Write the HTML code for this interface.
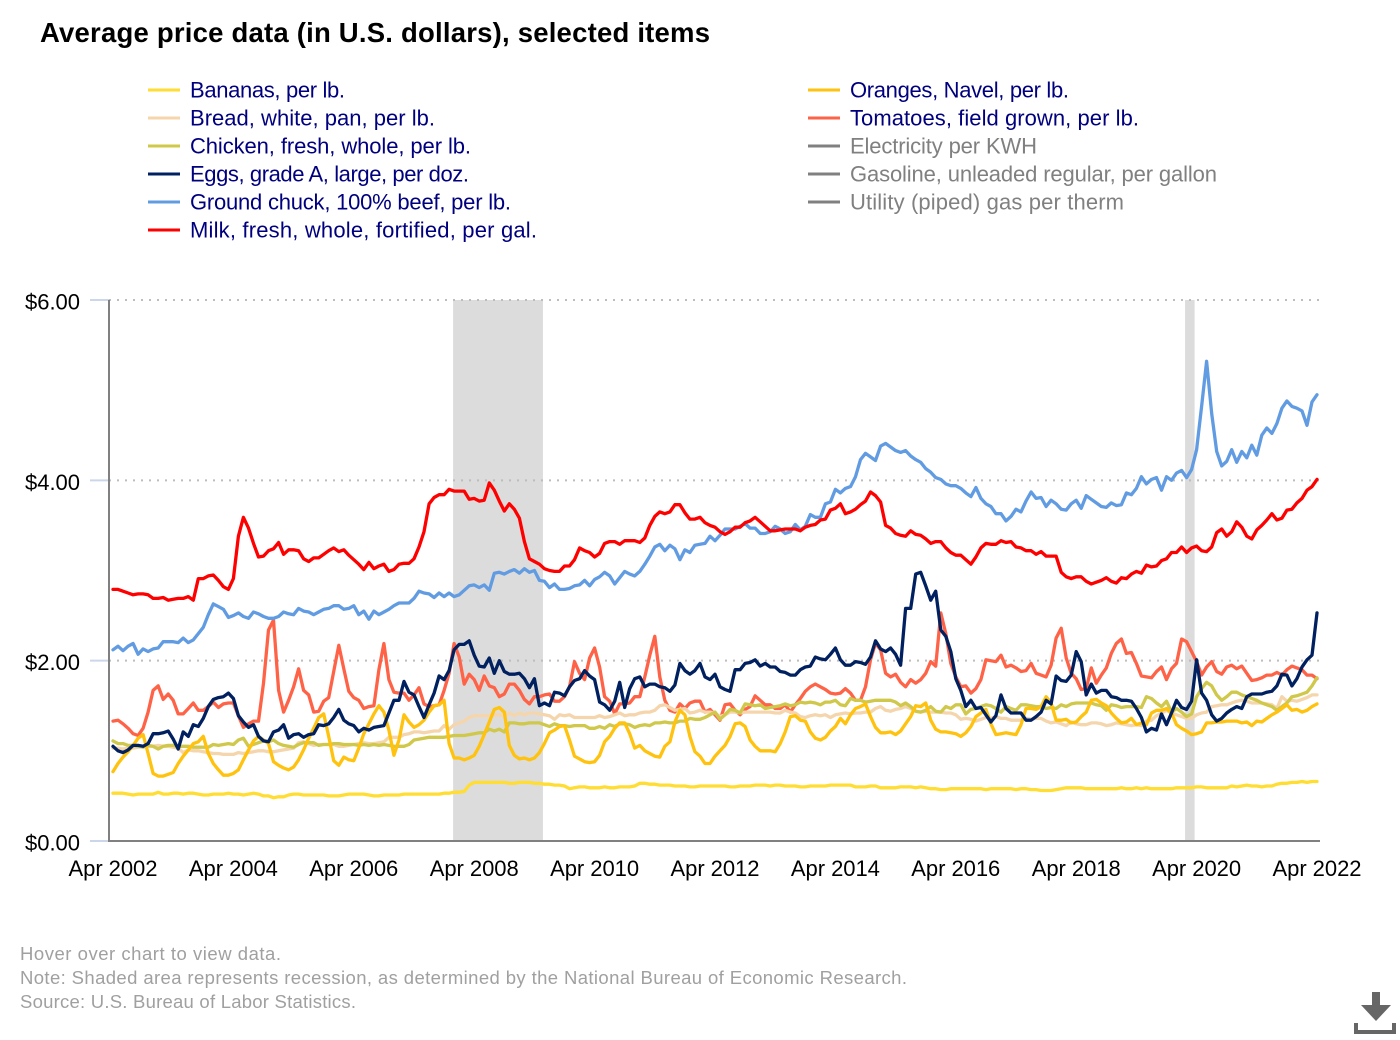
<!DOCTYPE html>
<html lang="en">
<head>
<meta charset="utf-8">
<title>Average price data (in U.S. dollars), selected items</title>
<style>
html,body{margin:0;padding:0;background:#fff;width:1400px;height:1040px;overflow:hidden}
svg{display:block}
text{font-family:"Liberation Sans",Arial,sans-serif}
.lg{font-size:22px;fill:#00007f}
.lg.off{fill:#808080}
.ft{font-size:18.5px;fill:#a0a0a0}
.ax{font-size:22px;fill:#000}
</style>
</head>
<body>
<svg id="chart" width="1400" height="1040" viewBox="0 0 1400 1040" xmlns="http://www.w3.org/2000/svg">
  <text x="40" y="42" font-size="27.5" font-weight="700" fill="#000" textLength="670" lengthAdjust="spacing">Average price data (in U.S. dollars), selected items</text>

  <g>
    <g><line x1="148" x2="180" y1="90" y2="90" stroke="#ffdd33" stroke-width="3"/><text class="lg" x="190" y="97.5" textLength="155">Bananas, per lb.</text></g>
    <g><line x1="148" x2="180" y1="118" y2="118" stroke="#f5d5ac" stroke-width="3"/><text class="lg" x="190" y="125.5" textLength="245">Bread, white, pan, per lb.</text></g>
    <g><line x1="148" x2="180" y1="146" y2="146" stroke="#cfc84a" stroke-width="3"/><text class="lg" x="190" y="153.5" textLength="281">Chicken, fresh, whole, per lb.</text></g>
    <g><line x1="148" x2="180" y1="174" y2="174" stroke="#002060" stroke-width="3"/><text class="lg" x="190" y="181.5" textLength="279">Eggs, grade A, large, per doz.</text></g>
    <g><line x1="148" x2="180" y1="202" y2="202" stroke="#619ce2" stroke-width="3"/><text class="lg" x="190" y="209.5" textLength="321">Ground chuck, 100% beef, per lb.</text></g>
    <g><line x1="148" x2="180" y1="230" y2="230" stroke="#ff0000" stroke-width="3"/><text class="lg" x="190" y="237.5" textLength="347">Milk, fresh, whole, fortified, per gal.</text></g>
    <g><line x1="808" x2="840" y1="90" y2="90" stroke="#ffc20e" stroke-width="3"/><text class="lg" x="850" y="97.5" textLength="219">Oranges, Navel, per lb.</text></g>
    <g><line x1="808" x2="840" y1="118" y2="118" stroke="#ff6347" stroke-width="3"/><text class="lg" x="850" y="125.5" textLength="289">Tomatoes, field grown, per lb.</text></g>
    <g><line x1="808" x2="840" y1="146" y2="146" stroke="#808080" stroke-width="3"/><text class="lg off" x="850" y="153.5" textLength="187">Electricity per KWH</text></g>
    <g><line x1="808" x2="840" y1="174" y2="174" stroke="#808080" stroke-width="3"/><text class="lg off" x="850" y="181.5" textLength="367">Gasoline, unleaded regular, per gallon</text></g>
    <g><line x1="808" x2="840" y1="202" y2="202" stroke="#808080" stroke-width="3"/><text class="lg off" x="850" y="209.5" textLength="274">Utility (piped) gas per therm</text></g>
  </g>

  <g id="bands"></g>
  <g id="grid"></g>
  <g id="series"></g>
  <g id="axes"></g>

  <g>
    <text class="ft" x="20" y="960" textLength="261">Hover over chart to view data.</text>
    <text class="ft" x="20" y="984" textLength="887">Note: Shaded area represents recession, as determined by the National Bureau of Economic Research.</text>
    <text class="ft" x="20" y="1008" textLength="336">Source: U.S. Bureau of Labor Statistics.</text>
  </g>

  <g fill="#666">
    <rect x="1372" y="992" width="8" height="13"/>
    <polygon points="1361,1005 1391,1005 1376,1021"/>
    <rect x="1354" y="1023" width="4" height="11"/>
    <rect x="1392" y="1023" width="4" height="11"/>
    <rect x="1354" y="1030" width="42" height="4"/>
  </g>
</svg>

<script>
const bananas = [
.53,.53,.53,.52,.51,.52,.52,.52,.52,.54,
.52,.52,.53,.53,.52,.53,.53,.52,.51,.51,
.52,.52,.52,.53,.52,.52,.51,.52,.53,.52,
.50,.50,.48,.49,.49,.51,.52,.52,.51,.51,
.51,.51,.51,.50,.50,.50,.51,.52,.52,.52,
.52,.51,.50,.50,.51,.51,.51,.51,.52,.52,
.52,.52,.52,.52,.52,.52,.53,.53,.54,.54,
.55,.62,.65,.65,.65,.65,.65,.65,.65,.64,
.64,.65,.65,.65,.64,.64,.63,.63,.62,.62,
.61,.58,.59,.60,.60,.59,.59,.59,.60,.59,
.59,.60,.60,.60,.61,.64,.64,.63,.63,.62,
.62,.62,.61,.61,.61,.60,.60,.61,.61,.61,
.61,.61,.61,.60,.60,.61,.61,.61,.62,.62,
.62,.61,.62,.62,.61,.61,.61,.60,.60,.61,
.61,.61,.61,.62,.62,.62,.62,.62,.60,.60,
.60,.61,.61,.59,.59,.59,.59,.60,.60,.60,
.59,.60,.59,.58,.58,.57,.57,.58,.58,.58,
.58,.58,.58,.58,.57,.58,.58,.58,.58,.58,
.57,.58,.58,.57,.57,.56,.56,.56,.57,.58,
.59,.59,.59,.59,.58,.58,.58,.58,.58,.58,
.58,.59,.58,.58,.59,.58,.59,.58,.58,.58,
.58,.58,.59,.59,.59,.59,.60,.60,.59,.59,
.59,.59,.59,.61,.60,.61,.62,.61,.61,.60,
.61,.61,.63,.64,.64,.65,.65,.66,.65,.66,
.66];
const bread = [
1.03,1.03,1.02,1.03,1.03,1.04,1.05,1.05,1.05,1.06,
1.05,1.05,1.04,1.03,.98,1.01,1.00,1.00,.99,.98,
.97,.97,.96,.96,.96,.98,.97,.98,.99,1.00,
1.00,.99,.99,1.00,1.01,1.02,1.03,1.09,1.10,1.08,
1.06,1.07,1.07,1.07,1.07,1.05,1.05,1.06,1.07,1.08,
1.09,1.08,1.08,1.09,1.10,1.15,1.15,1.15,1.18,1.19,
1.21,1.21,1.20,1.21,1.22,1.22,1.28,1.24,1.29,1.31,
1.33,1.37,1.39,1.39,1.39,1.39,1.40,1.40,1.39,1.42,
1.39,1.42,1.40,1.42,1.42,1.41,1.40,1.39,1.35,1.40,
1.39,1.40,1.37,1.37,1.37,1.37,1.37,1.39,1.37,1.38,
1.40,1.42,1.39,1.40,1.40,1.42,1.43,1.43,1.45,1.50,
1.51,1.48,1.45,1.46,1.47,1.42,1.43,1.45,1.43,1.43,
1.42,1.38,1.40,1.43,1.43,1.42,1.43,1.43,1.43,1.43,
1.43,1.43,1.42,1.42,1.45,1.43,1.42,1.38,1.37,1.39,
1.40,1.39,1.40,1.37,1.40,1.41,1.42,1.41,1.42,1.42,
1.43,1.43,1.47,1.49,1.45,1.44,1.46,1.47,1.49,1.47,
1.44,1.43,1.44,1.43,1.43,1.43,1.42,1.42,1.40,1.35,
1.36,1.35,1.33,1.35,1.37,1.36,1.38,1.36,1.36,1.34,
1.34,1.34,1.36,1.35,1.36,1.36,1.33,1.31,1.32,1.30,
1.28,1.32,1.30,1.29,1.29,1.31,1.31,1.30,1.28,1.29,
1.31,1.30,1.29,1.28,1.29,1.28,1.33,1.34,1.39,1.42,
1.45,1.42,1.40,1.38,1.36,1.36,1.40,1.42,1.43,1.49,
1.50,1.51,1.51,1.53,1.55,1.56,1.55,1.53,1.53,1.53,
1.52,1.51,1.47,1.60,1.55,1.56,1.55,1.57,1.59,1.62,
1.62];
const chicken = [
1.11,1.08,1.08,1.06,1.06,1.05,1.04,1.06,1.05,1.02,
1.05,1.06,1.06,1.05,1.05,1.05,1.04,1.04,1.04,1.04,
1.07,1.06,1.07,1.08,1.07,1.12,1.14,1.05,1.07,1.09,
1.11,1.10,1.12,1.08,1.06,1.05,1.04,1.07,1.09,1.09,
1.09,1.06,1.07,1.07,1.08,1.08,1.07,1.07,1.07,1.06,
1.07,1.06,1.07,1.06,1.07,1.06,1.05,1.05,1.05,1.07,
1.12,1.13,1.14,1.15,1.15,1.15,1.15,1.16,1.17,1.17,
1.17,1.18,1.19,1.20,1.20,1.24,1.22,1.24,1.21,1.31,
1.31,1.30,1.30,1.31,1.31,1.31,1.29,1.27,1.30,1.28,
1.28,1.27,1.28,1.28,1.28,1.25,1.25,1.27,1.25,1.29,
1.27,1.30,1.30,1.29,1.26,1.28,1.29,1.28,1.31,1.31,
1.32,1.31,1.31,1.33,1.33,1.36,1.35,1.35,1.37,1.40,
1.43,1.35,1.40,1.46,1.45,1.42,1.52,1.51,1.50,1.51,
1.47,1.48,1.49,1.50,1.52,1.50,1.51,1.54,1.53,1.54,
1.53,1.51,1.54,1.54,1.56,1.51,1.50,1.58,1.56,1.56,
1.54,1.55,1.56,1.56,1.56,1.56,1.54,1.50,1.53,1.49,
1.44,1.43,1.45,1.49,1.44,1.43,1.49,1.47,1.51,1.51,
1.41,1.46,1.47,1.49,1.51,1.50,1.47,1.43,1.49,1.47,
1.45,1.51,1.51,1.50,1.49,1.49,1.47,1.48,1.47,1.51,
1.49,1.52,1.53,1.53,1.53,1.53,1.51,1.50,1.45,1.51,
1.50,1.48,1.49,1.49,1.49,1.48,1.60,1.58,1.53,1.49,
1.55,1.43,1.47,1.43,1.38,1.41,1.60,1.69,1.76,1.72,
1.62,1.56,1.60,1.65,1.65,1.62,1.60,1.58,1.56,1.53,
1.51,1.49,1.45,1.49,1.53,1.60,1.61,1.63,1.65,1.72,
1.81];
const eggs = [
1.05,1.00,.98,1.01,1.06,1.06,1.05,1.08,1.19,1.19,
1.20,1.22,1.13,1.02,1.21,1.16,1.29,1.27,1.36,1.49,
1.57,1.59,1.60,1.64,1.58,1.39,1.32,1.26,1.29,1.16,
1.11,1.10,1.21,1.23,1.29,1.14,1.18,1.19,1.15,1.18,
1.19,1.29,1.28,1.30,1.37,1.46,1.34,1.30,1.28,1.21,
1.25,1.23,1.26,1.27,1.28,1.42,1.56,1.56,1.77,1.65,
1.62,1.49,1.37,1.51,1.64,1.83,1.79,1.89,2.12,2.18,
2.18,2.22,2.06,1.94,1.93,2.03,1.86,2.00,1.88,1.85,
1.85,1.86,1.80,1.70,1.80,1.50,1.53,1.50,1.65,1.64,
1.61,1.71,1.78,1.80,1.89,1.83,1.79,1.54,1.51,1.45,
1.55,1.76,1.48,1.69,1.80,1.82,1.71,1.74,1.74,1.71,
1.70,1.66,1.73,1.97,1.89,1.85,1.89,1.97,1.82,1.79,
1.85,1.71,1.68,1.66,1.90,1.90,1.97,1.98,2.01,1.94,
1.97,1.93,1.93,1.88,1.87,1.84,1.84,1.90,1.93,1.94,
2.04,2.02,2.01,2.07,2.14,2.01,1.95,1.95,1.99,1.98,
1.96,2.04,2.22,2.13,2.10,2.14,2.07,1.95,2.58,2.58,
2.96,2.98,2.83,2.67,2.77,2.34,2.27,2.10,1.80,1.67,
1.49,1.56,1.47,1.48,1.40,1.32,1.39,1.62,1.47,1.42,
1.42,1.42,1.34,1.34,1.38,1.43,1.56,1.52,1.83,1.78,
1.77,1.84,2.10,1.99,1.62,1.74,1.64,1.67,1.67,1.60,
1.59,1.56,1.56,1.55,1.47,1.37,1.21,1.25,1.23,1.41,
1.29,1.42,1.56,1.48,1.46,1.55,2.01,1.64,1.56,1.40,
1.33,1.36,1.42,1.46,1.49,1.47,1.60,1.63,1.63,1.63,
1.65,1.66,1.72,1.85,1.84,1.72,1.80,1.93,2.01,2.06,
2.53];
const groundChuck = [
2.12,2.16,2.11,2.16,2.19,2.07,2.13,2.10,2.13,2.14,
2.21,2.21,2.21,2.20,2.25,2.20,2.23,2.30,2.37,2.51,
2.63,2.60,2.57,2.48,2.50,2.53,2.49,2.47,2.54,2.52,
2.49,2.47,2.47,2.49,2.54,2.52,2.51,2.58,2.55,2.54,
2.51,2.54,2.57,2.58,2.61,2.61,2.57,2.58,2.61,2.51,
2.55,2.46,2.55,2.51,2.54,2.57,2.61,2.64,2.64,2.64,
2.69,2.77,2.75,2.74,2.70,2.75,2.71,2.75,2.71,2.73,
2.78,2.83,2.84,2.81,2.84,2.78,2.97,2.98,2.96,2.99,
3.01,2.97,3.02,2.98,3.00,2.89,2.88,2.81,2.85,2.79,
2.79,2.80,2.83,2.84,2.89,2.83,2.90,2.93,2.98,2.94,
2.85,2.92,2.99,2.96,2.94,2.99,3.07,3.16,3.26,3.29,
3.22,3.28,3.24,3.12,3.23,3.20,3.28,3.29,3.30,3.38,
3.33,3.39,3.46,3.46,3.46,3.49,3.52,3.47,3.47,3.41,
3.41,3.43,3.49,3.46,3.41,3.43,3.51,3.45,3.49,3.62,
3.59,3.59,3.74,3.76,3.90,3.86,3.91,3.93,4.04,4.23,
4.30,4.26,4.22,4.38,4.41,4.37,4.33,4.31,4.33,4.27,
4.23,4.20,4.13,4.09,4.03,4.01,3.96,3.94,3.94,3.91,
3.86,3.82,3.92,3.80,3.74,3.71,3.63,3.63,3.55,3.60,
3.68,3.65,3.77,3.87,3.80,3.81,3.71,3.78,3.74,3.68,
3.67,3.74,3.78,3.69,3.83,3.79,3.75,3.71,3.70,3.75,
3.72,3.73,3.86,3.84,3.91,4.04,3.96,4.01,4.03,3.89,
4.04,4.00,4.08,4.11,4.03,4.12,4.34,4.82,5.32,4.74,
4.32,4.16,4.21,4.34,4.20,4.32,4.25,4.39,4.28,4.50,
4.58,4.52,4.63,4.80,4.88,4.82,4.80,4.77,4.61,4.87,
4.95];
const milk = [
2.79,2.79,2.77,2.75,2.73,2.74,2.74,2.73,2.69,2.69,
2.70,2.67,2.68,2.69,2.69,2.71,2.67,2.91,2.91,2.94,
2.95,2.89,2.82,2.79,2.91,3.38,3.59,3.47,3.30,3.15,
3.16,3.22,3.24,3.31,3.18,3.23,3.23,3.22,3.13,3.10,
3.14,3.14,3.18,3.22,3.25,3.21,3.23,3.17,3.12,3.07,
3.01,3.09,3.02,3.05,3.07,2.99,3.01,3.07,3.08,3.08,
3.13,3.26,3.43,3.74,3.81,3.84,3.84,3.90,3.88,3.88,
3.88,3.79,3.80,3.77,3.78,3.97,3.89,3.77,3.66,3.74,
3.68,3.58,3.32,3.13,3.10,3.07,3.02,3.00,2.99,2.99,
3.05,3.05,3.12,3.25,3.22,3.20,3.15,3.19,3.30,3.32,
3.32,3.29,3.33,3.33,3.33,3.31,3.36,3.50,3.60,3.65,
3.63,3.65,3.73,3.73,3.64,3.57,3.57,3.59,3.53,3.50,
3.48,3.43,3.40,3.43,3.48,3.48,3.53,3.55,3.59,3.54,
3.49,3.44,3.44,3.45,3.46,3.46,3.46,3.44,3.48,3.50,
3.51,3.56,3.57,3.67,3.69,3.74,3.63,3.65,3.68,3.73,
3.77,3.87,3.83,3.76,3.50,3.47,3.41,3.39,3.38,3.44,
3.40,3.39,3.35,3.30,3.32,3.32,3.25,3.20,3.17,3.17,
3.12,3.07,3.15,3.25,3.30,3.29,3.29,3.33,3.31,3.32,
3.26,3.25,3.22,3.22,3.18,3.21,3.16,3.16,3.16,2.98,
2.93,2.91,2.93,2.93,2.88,2.85,2.87,2.89,2.92,2.88,
2.86,2.92,2.91,2.96,2.99,2.97,3.06,3.04,3.05,3.11,
3.13,3.20,3.20,3.26,3.20,3.25,3.27,3.22,3.21,3.26,
3.42,3.46,3.38,3.43,3.54,3.48,3.38,3.35,3.45,3.50,
3.56,3.63,3.56,3.58,3.67,3.68,3.75,3.80,3.89,3.93,
4.01];
const oranges = [
.77,.86,.93,.99,1.06,1.14,1.18,.97,.75,.72,
.72,.74,.76,.86,.94,1.01,1.08,1.10,1.16,.97,
.86,.79,.73,.73,.75,.79,.90,1.01,1.11,1.16,
1.12,1.08,.88,.84,.81,.79,.82,.90,1.01,1.14,
1.25,1.37,1.41,1.16,.89,.84,.93,.90,.89,1.03,
1.19,1.30,1.41,1.50,1.43,1.23,.95,1.12,1.40,1.32,
1.26,1.29,1.34,1.43,1.50,1.51,1.56,1.08,.92,.92,
.90,.92,.95,1.05,1.18,1.32,1.46,1.48,1.43,1.06,
.95,.91,.92,.90,.92,.98,1.08,1.20,1.23,1.27,
1.28,1.12,.94,.91,.88,.87,.88,.95,1.10,1.16,
1.25,1.31,1.31,1.19,1.03,1.06,1.00,.97,.94,.93,
1.05,1.10,1.32,1.45,1.40,1.16,.99,.94,.86,.86,
.94,1.00,1.06,1.16,1.30,1.31,1.27,1.12,1.05,1.00,
1.00,1.00,.99,1.08,1.21,1.38,1.39,1.34,1.33,1.21,
1.14,1.12,1.15,1.22,1.27,1.36,1.30,1.40,1.47,1.49,
1.52,1.38,1.26,1.20,1.20,1.21,1.18,1.22,1.30,1.38,
1.50,1.49,1.53,1.34,1.24,1.21,1.21,1.20,1.19,1.16,
1.20,1.27,1.38,1.42,1.46,1.30,1.18,1.19,1.20,1.19,
1.18,1.29,1.47,1.47,1.46,1.49,1.60,1.53,1.34,1.34,
1.35,1.31,1.32,1.38,1.43,1.56,1.57,1.53,1.50,1.42,
1.36,1.31,1.32,1.36,1.29,1.31,1.29,1.42,1.45,1.45,
1.47,1.42,1.29,1.25,1.22,1.18,1.19,1.21,1.31,1.31,
1.32,1.32,1.33,1.33,1.33,1.31,1.32,1.28,1.33,1.32,
1.36,1.40,1.43,1.47,1.51,1.45,1.46,1.43,1.45,1.49,
1.52];
const tomatoes = [
1.33,1.34,1.30,1.25,1.19,1.17,1.25,1.43,1.67,1.72,
1.57,1.63,1.56,1.41,1.41,1.47,1.53,1.45,1.45,1.49,
1.54,1.48,1.52,1.53,1.53,1.39,1.26,1.30,1.33,1.33,
1.75,2.34,2.45,1.67,1.43,1.56,1.71,1.91,1.67,1.62,
1.43,1.44,1.55,1.59,1.88,2.17,1.91,1.66,1.59,1.56,
1.47,1.49,1.50,1.90,2.19,1.79,1.65,1.64,1.64,1.56,
1.62,1.70,1.52,1.49,1.50,1.51,1.67,1.86,2.19,2.04,
1.74,1.85,1.79,1.67,1.83,1.72,1.70,1.60,1.63,1.74,
1.74,1.67,1.57,1.52,1.60,1.60,1.62,1.63,1.55,1.55,
1.60,1.71,1.99,1.86,1.79,2.03,2.14,1.93,1.60,1.55,
1.41,1.52,1.52,1.53,1.60,1.60,1.82,2.06,2.27,1.82,
1.56,1.45,1.43,1.52,1.47,1.53,1.55,1.55,1.43,1.46,
1.40,1.34,1.51,1.52,1.45,1.40,1.46,1.49,1.61,1.56,
1.51,1.51,1.47,1.47,1.51,1.43,1.51,1.58,1.66,1.71,
1.74,1.71,1.68,1.64,1.63,1.64,1.69,1.64,1.56,1.56,
1.71,2.01,2.19,2.12,1.86,1.82,1.85,1.76,1.71,1.79,
1.75,1.79,1.86,1.99,1.94,2.53,2.30,1.97,1.82,1.71,
1.72,1.64,1.69,1.79,2.01,2.00,1.99,2.06,1.93,1.95,
1.92,1.88,1.89,1.97,1.86,1.84,1.82,1.95,2.25,2.36,
2.03,1.86,1.80,1.68,1.69,1.92,1.75,1.84,1.92,2.08,
2.19,2.24,2.08,2.09,1.97,1.83,1.82,1.81,1.88,1.93,
1.79,1.91,1.97,2.24,2.21,2.10,1.99,1.84,1.93,1.99,
1.88,1.85,1.93,1.95,1.91,1.94,1.86,1.78,1.79,1.81,
1.84,1.84,1.87,1.84,1.90,1.94,1.92,1.90,1.84,1.84,
1.80];

const xTickLabels = ['Apr 2002','Apr 2004','Apr 2006','Apr 2008','Apr 2010','Apr 2012','Apr 2014','Apr 2016','Apr 2018','Apr 2020','Apr 2022'];
const monthsPerXTick = 24;
const yTickValues = [0, 2, 4, 6];
const recessionStarts = [67.8, 213.7];
const recessionEnds = [85.7, 215.6];

const NS = 'http://www.w3.org/2000/svg';
function xScale(month) { return 113 + month * 5.0167; }
function yScale(value) { return 841 - value * 90.17; }
function make(tag, parent, props) {
  const el = document.createElementNS(NS, tag);
  for (const k in props) el.setAttribute(k, props[k]);
  parent.appendChild(el);
  return el;
}

const bandsLayer = document.getElementById('bands');
recessionStarts.forEach(function (start, i) {
  const band = make('rect', bandsLayer, {x: xScale(start), y: yScale(6), width: xScale(recessionEnds[i]) - xScale(start), height: yScale(0) - yScale(6), fill: '#dcdcdc'});
  
  
});

const gridLayer = document.getElementById('grid');
yTickValues.forEach(function (v) {
  if (v === 0) return;
  const g = make('line', gridLayer, {x1: 109, x2: 1322, y1: yScale(v), y2: yScale(v), stroke: '#bdbdbd', 'stroke-width': 2, 'stroke-dasharray': '2 6'});
  
  
});

const seriesLayer = document.getElementById('series');
const drawOrder = [
  ['bananas', bananas, '#ffdd33'],
  ['tomatoes', tomatoes, '#ff6347'],
  ['bread', bread, '#f5d5ac'],
  ['chicken', chicken, '#cfc84a'],
  ['oranges', oranges, '#ffc20e'],
  ['ground-chuck', groundChuck, '#619ce2'],
  ['milk', milk, '#ff0000'],
  ['eggs', eggs, '#002060']
];
drawOrder.forEach(function (s) {
  const pts = s[1].map(function (v, i) { return xScale(i).toFixed(1) + ',' + yScale(v).toFixed(1); }).join(' ');
  const line = make('polyline', seriesLayer, {points: pts, fill: 'none', stroke: s[2], 'stroke-width': 3.3, 'stroke-linejoin': 'round', 'stroke-linecap': 'round'});
  
  
});

const axesLayer = document.getElementById('axes');
yTickValues.forEach(function (v) {
  const tick = make('line', axesLayer, {x1: 90, x2: 109, y1: yScale(v), y2: yScale(v), stroke: '#ccd6eb', 'stroke-width': 2});
  
  
  const label = make('text', axesLayer, {x: 25, y: yScale(v) + 9.5, 'class': 'ax', textLength: 55});
  label.textContent = '$' + v.toFixed(2);
  
  
});
xTickLabels.forEach(function (t, i) {
  const label = make('text', axesLayer, {x: xScale(i * monthsPerXTick), y: 876, 'text-anchor': 'middle', 'class': 'ax', textLength: 89});
  label.textContent = t;
  
  
});
const yAxis = make('line', axesLayer, {x1: 109, x2: 109, y1: yScale(6), y2: yScale(0) + 1, stroke: '#808080', 'stroke-width': 2});


const xAxis = make('line', axesLayer, {x1: 108, x2: 1320, y1: yScale(0), y2: yScale(0), stroke: '#808080', 'stroke-width': 2});


</script>
</body>
</html>
